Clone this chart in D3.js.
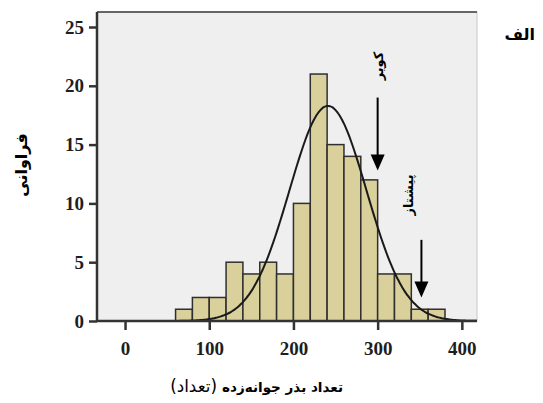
<!DOCTYPE html>
<html><head><meta charset="utf-8">
<script src="https://cdn.jsdelivr.net/npm/d3@7"></script>
<style>body{margin:0;background:#fff}svg{display:block}</style>
</head><body>
<svg id="c" width="543" height="403"></svg>
<script>
// Data
const binStarts = [60,80,100,120,140,160,180,200,220,240,260,280,300,320,340,360];
const binWidth = 20;
const counts = [1,2,2,5,4,5,4,10,21,15,14,12,4,4,1,1];
const xTicks = [0,100,200,300,400];
const yTicks = [0,5,10,15,20,25];
const fitMean = 241;
const fitSd = 45.8;
const arrowX = [300, 352];
const arrowTop = [19, 6.9];
const arrowTip = [12.8, 2.0];
const arrowLabels = ["کویر", "پیشتاز"];
const xTitleBold = "تعداد بذر جوانه‌زده";
const xTitleNormal = "(تعداد)";
const yTitle = "فراوانی";
const panelLabel = "الف";

const svg = d3.select("#c");
const L = 97, R = 477, T = 12, B = 321;
const x = d3.scaleLinear().domain([-33.3, 418]).range([L, R]);
const y = d3.scaleLinear().domain([0, 25]).range([B, 27]);

// plot background
svg.append("rect").attr("x", L).attr("y", T).attr("width", R - L).attr("height", B - T)
  .attr("fill", "#efefef").attr("stroke", "#c8c8c8").attr("stroke-width", 1);
svg.append("line").attr("x1", L).attr("x2", R).attr("y1", T).attr("y2", T)
  .attr("stroke", "#666").attr("stroke-width", 2);

svg.append("clipPath").attr("id", "pc").append("rect")
  .attr("x", L).attr("y", T).attr("width", R - L).attr("height", B - T);

// bars
svg.append("g").selectAll("rect").data(counts).join("rect")
  .attr("x", (d, i) => x(binStarts[i]))
  .attr("width", (d, i) => x(binStarts[i] + binWidth) - x(binStarts[i]))
  .attr("y", d => y(d))
  .attr("height", d => y(0) - y(d))
  .attr("fill", "#d9d09c").attr("stroke", "#2f2f2f").attr("stroke-width", 1.5);

// fitted normal curve
const total = d3.sum(counts);
const fx = d3.range(40, 420, 2);
const fy = fx.map(v => total * binWidth / (fitSd * Math.sqrt(2 * Math.PI)) * Math.exp(-((v - fitMean) ** 2) / (2 * fitSd * fitSd)));
svg.append("path").attr("clip-path", "url(#pc)")
  .datum(fx.map((v, i) => [v, fy[i]]))
  .attr("d", d3.line().x(d => x(d[0])).y(d => y(d[1])).curve(d3.curveBasis))
  .attr("fill", "none").attr("stroke", "#1a1a1a").attr("stroke-width", 2);

// axes
const xAxis = svg.append("g").attr("transform", `translate(0,${B})`)
  .call(d3.axisBottom(x).tickValues(xTicks).tickSize(9).tickPadding(12));
const yAxis = svg.append("g").attr("transform", `translate(${L},0)`)
  .call(d3.axisLeft(y).tickValues(yTicks).tickSize(8).tickPadding(5));
[xAxis, yAxis].forEach(g => {
  g.select(".domain").attr("stroke", "#333").attr("stroke-width", 2.5);
  g.selectAll(".tick line").attr("stroke", "#333").attr("stroke-width", 2.5);
  g.selectAll("text").attr("font-family", "'Liberation Serif', serif")
    .attr("font-weight", "bold").attr("font-size", 19).attr("fill", "#1e1e1e");
});
yAxis.select(".domain").attr("d", `M0,${B}V${T}`);
xAxis.select(".domain").attr("d", `M${L},0H${R}`);

// arrows
arrowX.forEach((a, i) => {
  const xp = x(a), yt = y(arrowTop[i]), yk = y(arrowTip[i]);
  svg.append("line").attr("x1", xp).attr("x2", xp).attr("y1", yt).attr("y2", yk - 12)
    .attr("stroke", "#000").attr("stroke-width", 2);
  svg.append("path").attr("d", `M${xp - 7},${yk - 16}L${xp + 7},${yk - 16}L${xp},${yk}Z`).attr("fill", "#000");
});
// arrow labels (rotated)
const labPos = [[x(arrowX[0]) + 2, 66], [x(arrowX[1]) - 12, 195]];
arrowLabels.forEach((t, i) => {
  svg.append("text").attr("transform", `translate(${labPos[i][0]},${labPos[i][1]}) rotate(-90)`)
    .attr("text-anchor", "middle").attr("dominant-baseline", "middle")
    .attr("direction", "rtl")
    .attr("font-family", "'DejaVu Sans', sans-serif").attr("font-weight", "bold")
    .attr("font-size", 13).attr("fill", "#000").text(t);
});

// fit a text to a width by adjusting font size
function fitText(sel, target) {
  const w = sel.node().getComputedTextLength();
  const fs = +sel.attr("font-size");
  if (w > 0) sel.attr("font-size", Math.min(fs * target / w, fs * 1.2).toFixed(2));
}

// titles
const tb = svg.append("text").attr("x", 343).attr("y", 392).attr("text-anchor", "start")
  .attr("direction", "rtl").attr("font-family", "'DejaVu Sans', sans-serif")
  .attr("font-weight", "bold").attr("font-size", 16).attr("fill", "#000").text(xTitleBold);
fitText(tb, 121);
const tn = svg.append("text").attr("x", 217).attr("y", 392).attr("text-anchor", "start")
  .attr("direction", "rtl").attr("font-family", "'DejaVu Sans', sans-serif")
  .attr("font-size", 14).attr("fill", "#000").text(xTitleNormal);
fitText(tn, 58);

const yt = svg.append("text").attr("transform", "translate(27,165) rotate(-90)")
  .attr("text-anchor", "middle").attr("direction", "rtl")
  .attr("font-family", "'DejaVu Sans', sans-serif").attr("font-weight", "bold")
  .attr("font-size", 16).attr("fill", "#000").text(yTitle);
svg.append("text").attr("x", 535).attr("y", 40).attr("text-anchor", "start")
  .attr("direction", "rtl").attr("font-family", "'DejaVu Sans', sans-serif")
  .attr("font-weight", "bold").attr("font-size", 16).attr("fill", "#000").text(panelLabel);
</script>
</body></html>
